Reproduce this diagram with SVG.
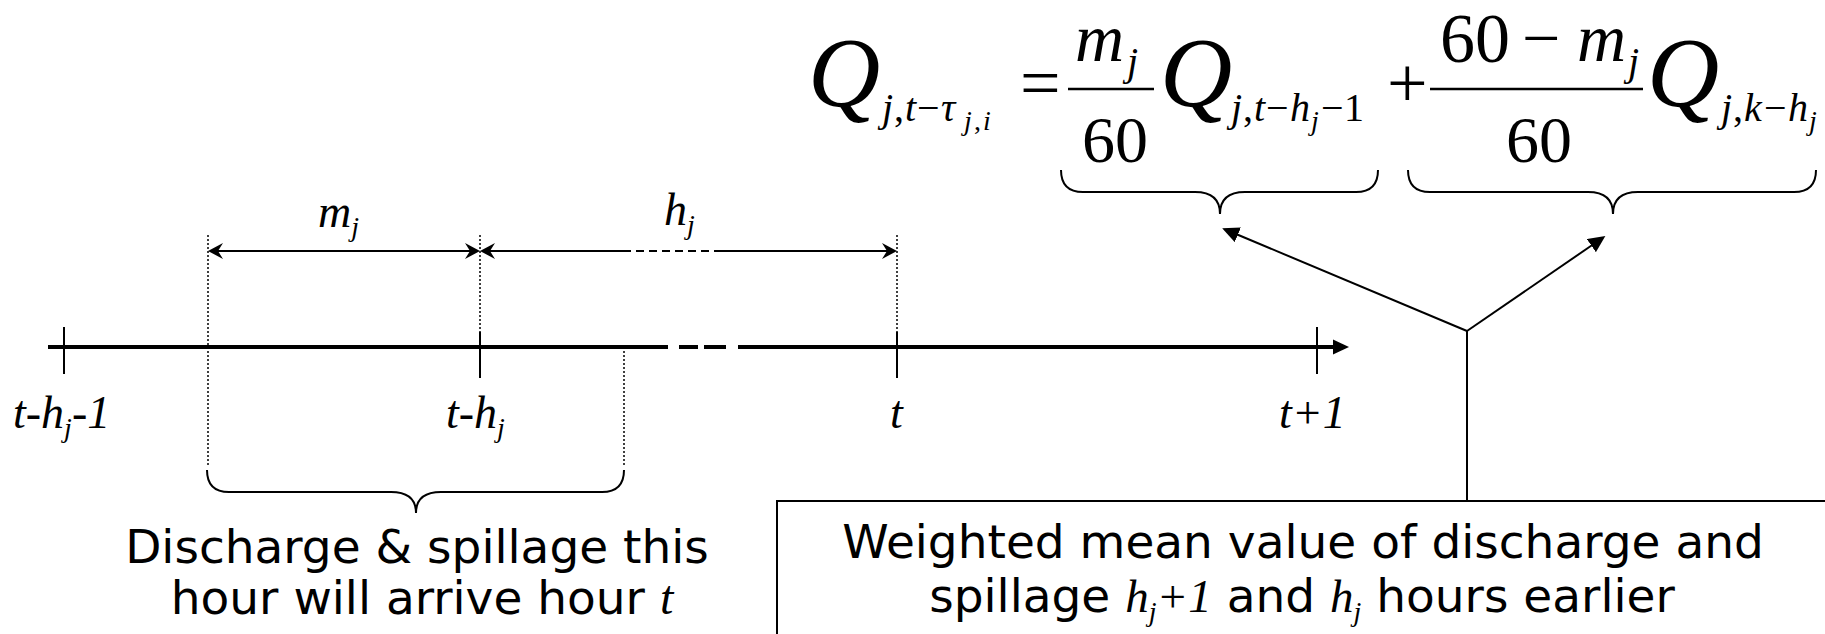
<svg xmlns="http://www.w3.org/2000/svg" width="1825" height="634" viewBox="0 0 1825 634">
<defs>
<style>
.serif{font-family:"Liberation Serif","Times New Roman",serif;fill:#000;}
.it{font-style:italic;}
.sans{font-family:"DejaVu Sans",Verdana,sans-serif;font-size:47px;fill:#000;}
.ln{stroke:#000;fill:none;stroke-width:2;}
.dot{stroke:#000;stroke-width:1.5;stroke-dasharray:2 2;fill:none;}
.brace{stroke:#000;stroke-width:2;fill:none;}
</style>
<marker id="barb" markerUnits="userSpaceOnUse" markerWidth="16" markerHeight="16" viewBox="0 0 16 16" refX="5" refY="8" orient="auto-start-reverse"><path d="M0,0 L15,8 L0,16 L5,8 Z" fill="#000"/></marker>
<marker id="tri" markerUnits="userSpaceOnUse" markerWidth="18" markerHeight="16" viewBox="0 0 18 16" refX="2" refY="8" orient="auto"><path d="M0,0 L17,8 L0,16 Z" fill="#000"/></marker>
</defs>
<rect width="1825" height="634" fill="#fff"/>

<g id="equation">
<text class="serif it" font-size="100" x="808" y="106">Q</text>
<text class="serif" font-size="40" y="121"><tspan class="it" x="882">j</tspan><tspan x="894">,</tspan><tspan class="it" x="905">t</tspan><tspan x="917">−</tspan><tspan class="it" x="941">τ</tspan></text>
<text class="serif" font-size="28" y="130"><tspan class="it" x="964">j</tspan><tspan x="974">,</tspan><tspan class="it" x="983">i</tspan></text>
<text class="serif" font-size="72" x="1020" y="107">=</text>
<text class="serif it" font-size="68" x="1075" y="61">m</text>
<text class="serif it" font-size="40" x="1127" y="75">j</text>
<line x1="1068" y1="89" x2="1154" y2="89" stroke="#000" stroke-width="2.5"/>
<text class="serif" font-size="66" x="1082" y="162">60</text>
<text class="serif it" font-size="100" x="1160" y="106">Q</text>
<text class="serif" font-size="40" y="121"><tspan class="it" x="1231">j</tspan><tspan x="1243">,</tspan><tspan class="it" x="1254">t</tspan><tspan x="1266">−</tspan><tspan class="it" x="1290">h</tspan><tspan x="1321">−</tspan><tspan x="1344">1</tspan></text>
<text class="serif it" font-size="28" x="1311" y="130">j</text>
<text class="serif" font-size="72" x="1387" y="107">+</text>
<line x1="1430" y1="89" x2="1643" y2="89" stroke="#000" stroke-width="2.5"/>
<text class="serif" font-size="70" x="1440" y="62">60</text>
<text class="serif" font-size="68" x="1522" y="61">−</text>
<text class="serif it" font-size="68" x="1577" y="61">m</text>
<text class="serif it" font-size="40" x="1628" y="75">j</text>
<text class="serif" font-size="66" x="1506" y="162">60</text>
<text class="serif it" font-size="100" x="1647" y="106">Q</text>
<text class="serif" font-size="40" y="121"><tspan class="it" x="1721">j</tspan><tspan x="1733">,</tspan><tspan class="it" x="1744">k</tspan><tspan x="1764">−</tspan><tspan class="it" x="1788">h</tspan></text>
<text class="serif it" font-size="28" x="1809" y="130">j</text>
</g>

<g id="braces">
<path class="brace" d="M1061,170 Q1061,192 1083,192 H1195 Q1220,192 1220,214 Q1220,192 1245,192 H1356 Q1378,192 1378,170"/>
<path class="brace" d="M1408,170 Q1408,192 1430,192 H1588 Q1613,192 1613,214 Q1613,192 1638,192 H1794 Q1816,192 1816,170"/>
<path class="brace" d="M207,470 Q207,492 229,492 H391 Q416,492 416,513 Q416,492 441,492 H602 Q624,492 624,470"/>
</g>

<g id="timeline">
<path d="M48,347 H668 M679,347 H698 M704,347 H726 M738,347 H1335" stroke="#000" stroke-width="4" fill="none"/>
<polygon points="1333,339.5 1349,347 1333,354.5" fill="#000"/>
<line class="ln" x1="64" y1="327" x2="64" y2="374"/>
<line class="ln" x1="480" y1="332" x2="480" y2="378"/>
<line class="ln" x1="897" y1="332" x2="897" y2="378"/>
<line class="ln" x1="1317" y1="327" x2="1317" y2="374"/>
<line class="dot" x1="208" y1="235" x2="208" y2="466"/>
<line class="dot" x1="480" y1="235" x2="480" y2="347"/>
<line class="dot" x1="624" y1="347" x2="624" y2="466"/>
<line class="dot" x1="897" y1="235" x2="897" y2="347"/>
</g>

<g id="labels">
<text class="serif it" font-size="46" x="13" y="428">t-h<tspan font-size="28" dy="9">j</tspan><tspan dy="-9">-1</tspan></text>
<text class="serif it" font-size="46" x="446" y="428">t-h<tspan font-size="28" dy="9">j</tspan></text>
<text class="serif it" font-size="46" x="890" y="428">t</text>
<text class="serif it" font-size="46" x="1279" y="428">t+1</text>
<text class="serif it" font-size="46" x="318" y="227">m<tspan font-size="28" dy="9">j</tspan></text>
<text class="serif it" font-size="46" x="664" y="225">h<tspan font-size="28" dy="9">j</tspan></text>
</g>

<g id="connectors">
<line class="ln" x1="218" y1="251" x2="470" y2="251" marker-start="url(#barb)" marker-end="url(#barb)"/>
<line class="ln" x1="490" y1="251" x2="623" y2="251" marker-start="url(#barb)"/>
<line x1="623" y1="251" x2="720" y2="251" stroke="#000" stroke-width="2" stroke-dasharray="8 5"/>
<line class="ln" x1="720" y1="251" x2="887" y2="251" marker-end="url(#barb)"/>
<line class="ln" x1="1467" y1="501" x2="1467" y2="331"/>
<line class="ln" x1="1467" y1="331" x2="1236" y2="234" marker-end="url(#tri)"/>
<line class="ln" x1="1467" y1="331" x2="1593" y2="244.5" marker-end="url(#tri)"/>
</g>

<g id="note-left">
<text class="sans" x="417" y="563" text-anchor="middle">Discharge &amp; spillage this</text>
<text class="sans" x="422" y="614" text-anchor="middle">hour will arrive hour <tspan class="serif it" font-size="48">t</tspan></text>
</g>

<g id="note-box">
<rect x="777" y="501" width="1060" height="150" fill="#fff" stroke="#000" stroke-width="2"/>
<text class="sans" x="1303" y="558" text-anchor="middle">Weighted mean value of discharge and</text>
<text class="sans" x="1302" y="612" text-anchor="middle">spillage <tspan class="serif it" font-size="47">h</tspan><tspan class="serif it" font-size="28" dy="9">j</tspan><tspan class="serif it" font-size="47" dy="-9">+1</tspan> and <tspan class="serif it" font-size="47">h</tspan><tspan class="serif it" font-size="28" dy="9">j</tspan><tspan dy="-9"> hours earlier</tspan></text>
</g>
</svg>
